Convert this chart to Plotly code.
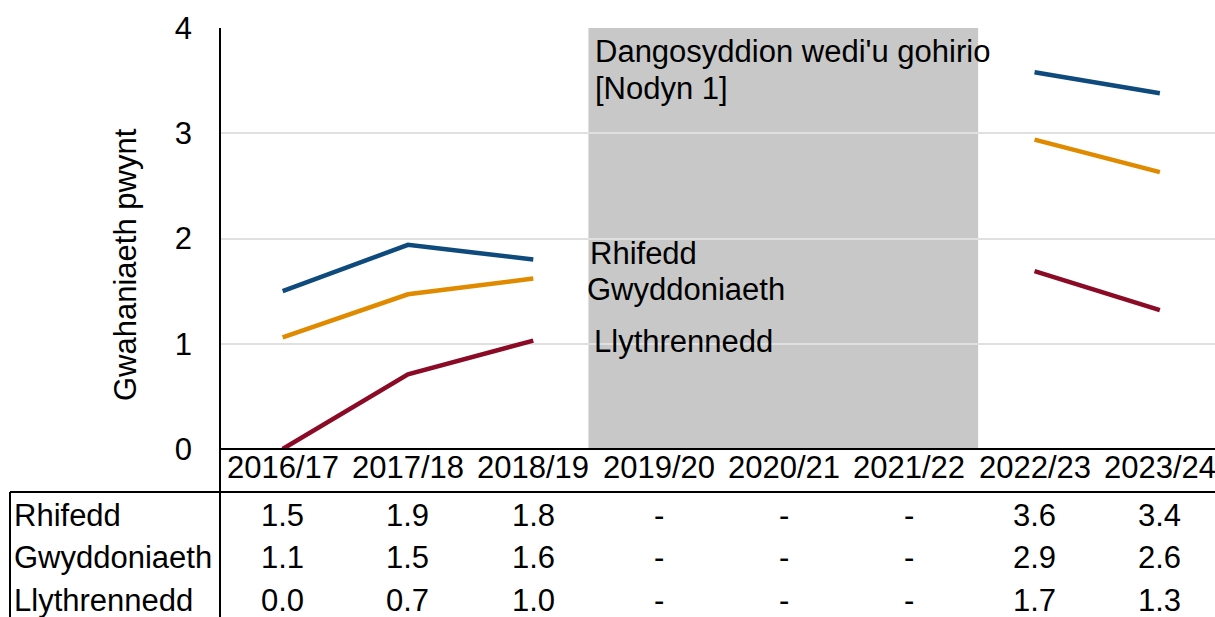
import plotly.graph_objects as go

categories = ["2016/17", "2017/18", "2018/19", "2019/20", "2020/21", "2021/22", "2022/23", "2023/24"]
rhifedd = [1.50, 1.94, 1.80, None, None, None, 3.58, 3.38]
gwyddoniaeth = [1.06, 1.47, 1.62, None, None, None, 2.94, 2.63]
llythrennedd = [0.00, 0.71, 1.03, None, None, None, 1.69, 1.32]

series_names = ["Rhifedd", "Gwyddoniaeth", "Llythrennedd"]
series_values = [rhifedd, gwyddoniaeth, llythrennedd]
series_colors = ["#0f4a7c", "#e08a00", "#8b0a26"]

y_ticks = [0, 1, 2, 3, 4]
y_title = "Gwahaniaeth pwynt"
note_lines = ["Dangosyddion wedi'u gohirio", "[Nodyn 1]"]

FONT = "Liberation Sans, Arial, sans-serif"
FS = 31

W, H = 1215, 617
L, T, B = 220, 28, 168

fig = go.Figure()
idx = list(range(len(categories)))
for name, vals, col in zip(series_names, series_values, series_colors):
    fig.add_trace(go.Scatter(
        x=idx, y=vals, mode="lines", name=name,
        line=dict(color=col, width=4.5), connectgaps=False, showlegend=False,
    ))

# shaded suspended period
fig.add_shape(type="rect", xref="x", yref="y", x0=2.44, x1=5.55, y0=0, y1=4,
              fillcolor="#c8c8c8", line=dict(width=0), layer="below")


def py(p):
    return (H - B - p) / (H - B - T)


def px(p):
    return (p - L) / (W - L)


annotations = []
# note text
for line_txt, ly in zip(note_lines, [52, 88]):
    annotations.append(dict(x=2.44, y=py(ly), xref="x", yref="paper", text=line_txt,
                            showarrow=False, xanchor="left", yanchor="middle", xshift=5,
                            font=dict(size=FS, color="black", family=FONT)))

# series labels
label_pos = {"Rhifedd": (2.46, 1.86), "Gwyddoniaeth": (2.435, 1.52), "Llythrennedd": (2.495, 1.02)}
for name in series_names:
    lx, ly = label_pos[name]
    annotations.append(dict(x=lx, y=ly, xref="x", yref="y", text=name, showarrow=False,
                            xanchor="left", yanchor="middle", xshift=-3,
                            font=dict(size=FS, color="black", family=FONT)))

# category header row (x tick labels)
for i, c in enumerate(categories):
    annotations.append(dict(x=i, y=py(468), xref="x", yref="paper", text=c,
                            showarrow=False, xanchor="center", yanchor="middle",
                            font=dict(size=FS, color="black", family=FONT)))

# table rows
row_y = [515, 557, 600]
for name, vals, ry in zip(series_names, series_values, row_y):
    annotations.append(dict(x=px(12), y=py(ry), xref="paper", yref="paper", text=name,
                            showarrow=False, xanchor="left", yanchor="middle",
                            font=dict(size=FS, color="black", family=FONT)))
    for i, v in enumerate(vals):
        txt = "-" if v is None else f"{v:.1f}"
        annotations.append(dict(x=i, y=py(ry), xref="x", yref="paper", text=txt,
                                showarrow=False, xanchor="center", yanchor="middle",
                                font=dict(size=FS, color="black", family=FONT)))

# y axis title
annotations.append(dict(x=px(125), y=py(265), xref="paper", yref="paper", text=y_title,
                        showarrow=False, textangle=-90, xanchor="center", yanchor="middle",
                        font=dict(size=FS, color="black", family=FONT)))

shapes_lines = [
    dict(x0=px(10), x1=px(1215), y0=py(492), y1=py(492)),
    dict(x0=px(10), x1=px(10), y0=py(492), y1=py(617)),
    dict(x0=px(220), x1=px(220), y0=py(28), y1=py(617)),
    dict(x0=px(220), x1=px(1215), y0=py(449), y1=py(449)),
]
for s in shapes_lines:
    fig.add_shape(type="line", xref="paper", yref="paper", line=dict(color="black", width=2),
                  layer="above", **s)

fig.update_layout(
    width=W, height=H,
    margin=dict(l=L, r=0, t=T, b=B),
    paper_bgcolor="white", plot_bgcolor="white",
    annotations=annotations,
    font=dict(family=FONT, size=FS, color="black"),
    xaxis=dict(
        range=[-0.5, 7.44], tickmode="array", tickvals=idx, showticklabels=False,
        showgrid=False, zeroline=False, showline=False, ticks="",
    ),
    yaxis=dict(
        range=[0, 4], tickvals=y_ticks, showgrid=True, gridcolor="#e0e0e0", gridwidth=1.5,
        zeroline=False, showline=False, ticks="",
        tickfont=dict(size=FS, color="black", family=FONT), ticklabelstandoff=27,
    ),
)

fig.write_html("out.html", config={"displayModeBar": False},
               post_script="document.body.style.margin='0';document.body.style.overflow='hidden';")
